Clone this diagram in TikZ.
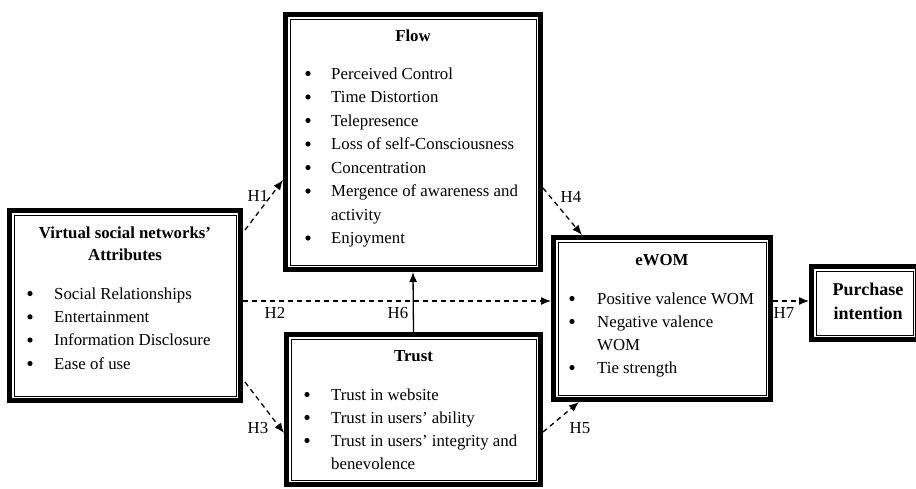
\documentclass[tikz,border=0pt]{standalone}
\usepackage{fontspec}
\setmainfont{Liberation Serif}
\usetikzlibrary{arrows.meta,calc}
\begin{document}
\begin{tikzpicture}[x=1pt,y=-1pt,
  box/.style={draw, line width=5pt, outer sep=2.5pt, inner sep=0pt, rectangle},
  inner/.style={line width=1pt},
  txt/.style={font=\fontsize{16.8}{20}\selectfont, inner sep=0pt, anchor=base west},
  hd/.style={font=\fontsize{16.8}{20}\selectfont\bfseries, inner sep=0pt, anchor=base},
  bul/.style={circle, fill, draw=none, inner sep=0pt, minimum size=5.2pt, yshift=5.5pt},
  lbl/.style={font=\fontsize{16.8}{20}\selectfont, inner sep=0pt},
  hyp/.style={line width=1.3pt, dash pattern=on 5pt off 4pt, -{Latex[length=10pt,width=8pt]}},
  sol/.style={line width=1.3pt, -{Latex[length=10pt,width=8pt]}},
]
\useasboundingbox (0,0) rectangle (916,488);

% boxes (outer edge sizes minus line width)
\node[box, minimum width=231pt, minimum height=190pt] (vsn) at (125,305.5) {};
\node[box, minimum width=255pt, minimum height=255pt] (flow) at (413,142) {};
\node[box, minimum width=254pt, minimum height=150pt] (trust) at (413.5,409.5) {};
\node[box, minimum width=217pt, minimum height=162pt] (ewom) at (662,318.5) {};
\node[box, minimum width=106pt, minimum height=73pt] (purch) at (864.5,303) {};

\foreach \n in {vsn,flow,trust,ewom,purch}{
  \draw[inner] ([shift={(7pt,-7pt)}]\n.north west) rectangle ([shift={(-7pt,7pt)}]\n.south east);
}

% Virtual social networks' attributes
\node[hd] (vsnh1) at (125,238) {Virtual social networks’};
\node[hd] (vsnh2) at (125,260) {Attributes};
\node[bul] (vb1) at (30,299) {};
\node[bul] (vb2) at (30,322.3) {};
\node[bul] (vb3) at (30,345.6) {};
\node[bul] (vb4) at (30,369) {};
\node[txt] (vt1) at (54,299) {Social Relationships};
\node[txt] (vt2) at (54,322.3) {Entertainment};
\node[txt] (vt3) at (54,345.6) {Information Disclosure};
\node[txt] (vt4) at (54,369) {Ease of use};

% Flow
\node[hd] (flowh) at (413,41) {Flow};
\node[bul] (fb1) at (308,79) {};
\node[bul] (fb2) at (308,102.5) {};
\node[bul] (fb3) at (308,126) {};
\node[bul] (fb4) at (308,149.5) {};
\node[bul] (fb5) at (308,173) {};
\node[bul] (fb6) at (308,196.5) {};
\node[bul] (fb7) at (308,243.5) {};
\node[txt] (ft1) at (331,79) {Perceived Control};
\node[txt] (ft2) at (331,102.5) {Time Distortion};
\node[txt] (ft3) at (331,126) {Telepresence};
\node[txt] (ft4) at (331,149.5) {Loss of self-Consciousness};
\node[txt] (ft5) at (331,173) {Concentration};
\node[txt] (ft6) at (331,196.5) {Mergence of awareness and};
\node[txt] (ft6b) at (331,220) {activity};
\node[txt] (ft7) at (331,243.5) {Enjoyment};

% Trust
\node[hd] (trusth) at (413.5,361) {Trust};
\node[bul] (tb1) at (307,400) {};
\node[bul] (tb2) at (307,423) {};
\node[bul] (tb3) at (307,446) {};
\node[txt] (tt1) at (331,400) {Trust in website};
\node[txt] (tt2) at (331,423) {Trust in users’ ability};
\node[txt] (tt3) at (331,446) {Trust in users’ integrity and};
\node[txt] (tt3b) at (331,469) {benevolence};

% eWOM
\node[hd] (ewomh) at (662,265) {eWOM};
\node[bul] (eb1) at (572,304) {};
\node[bul] (eb2) at (572,327) {};
\node[bul] (eb3) at (572,373) {};
\node[txt] (et1) at (597,304) {Positive valence WOM};
\node[txt] (et2) at (597,327) {Negative valence};
\node[txt] (et2b) at (597,350) {WOM};
\node[txt] (et3) at (597,373) {Tie strength};

% Purchase intention
\node[hd, font=\fontsize{18}{20}\selectfont\bfseries] (ph1) at (868,295) {Purchase};
\node[hd, font=\fontsize{18}{20}\selectfont\bfseries] (ph2) at (868,319) {intention};

% connectors
\coordinate (h2y) at (0,301);
\draw[hyp] ([shift={(2pt,-22pt)}]vsn.north east) -- ([yshift=92pt]flow.south west);
\draw[hyp] (vsn.east |- h2y) -- (ewom.west |- h2y);
\draw[hyp] ([shift={(2pt,21pt)}]vsn.south east) -- ([yshift=-101pt]trust.north west);
\draw[hyp] ([yshift=84pt]flow.south east) -- ([xshift=31pt]ewom.north west);
\draw[hyp] ([yshift=-100pt]trust.north east) -- ([xshift=28pt]ewom.south west);
\draw[sol] (trust.north) -- (flow.south);
\draw[hyp] (ewom.east |- h2y) -- (purch.west |- h2y);

% labels
\node[lbl] (l1) at (258,196) {H1};
\node[lbl] (l2) at (275,313) {H2};
\node[lbl] (l3) at (258,428) {H3};
\node[lbl] (l4) at (571,197) {H4};
\node[lbl] (l5) at (580,428) {H5};
\node[lbl] (l6) at (398,313) {H6};
\node[lbl] (l7) at (784,313) {H7};
\end{tikzpicture}
\end{document}
